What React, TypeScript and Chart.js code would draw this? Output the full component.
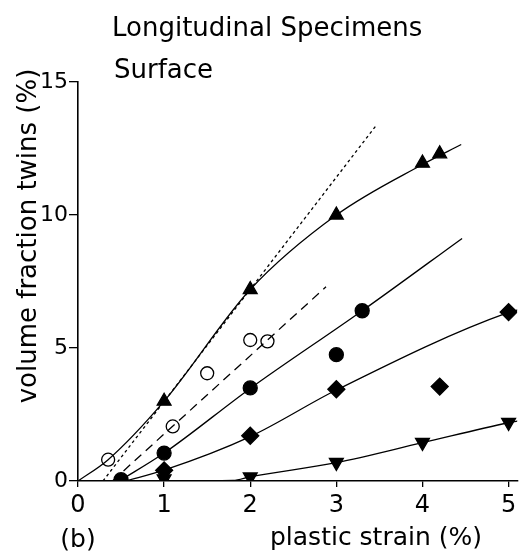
import React, { useEffect, useRef } from "react";
import { Chart, registerables } from "chart.js";

Chart.register(...registerables);

// Axis ticks
const xTicks = [0, 1, 2, 3, 4, 5];
const yTicks = [0, 5, 10, 15];

// Measured points (plastic strain %, volume fraction twins %)
const triX = [1, 2, 3, 4, 4.2];
const triY = [3.0, 7.2, 10.0, 11.95, 12.3];
const openX = [0.35, 1.1, 1.5, 2.0, 2.2];
const openY = [0.8, 2.05, 4.05, 5.3, 5.25];
const circX = [0.5, 1, 2, 3, 3.3];
const circY = [0.05, 1.05, 3.5, 4.75, 6.4];
const diaX = [1, 2, 3, 4.2, 5];
const diaY = [0.4, 1.7, 3.45, 3.55, 6.35];
const downX = [1, 2, 3, 4, 5];
const downY = [0.08, 0.15, 0.7, 1.45, 2.2];

// Fitted curves
const triCurveX = [0, 0.35, 1, 2, 3, 4, 4.45];
const triCurveY = [0, 0.8, 3.0, 7.2, 10.0, 11.9, 12.65];
const circCurveX = [0.48, 1, 2, 3.3, 4.46];
const circCurveY = [0, 1.05, 3.48, 6.4, 9.12];
const diaCurveX = [0.55, 1, 2, 3, 5, 5.13];
const diaCurveY = [0, 0.41, 1.67, 3.42, 6.34, 6.45];
const downCurveX = [1, 1.8, 2, 3, 4, 5, 5.13];
const downCurveY = [0, 0.02, 0.16, 0.69, 1.44, 2.19, 2.27];
const dottedX = [0.29, 3.47];
const dottedY = [0, 13.4];
const dashX = [0.4, 2.88];
const dashY = [0, 7.3];

const titleLine1 = "Longitudinal Specimens";
const titleLine2 = "Surface";
const xTitle = "plastic strain (%)";
const yTitle = "volume fraction twins (%)";
const panelLabel = "(b)";

const FONT = "'DejaVu Sans', sans-serif";

const pts = (xs: number[], ys: number[]) => xs.map((x, i) => ({ x, y: ys[i] }));

const curve = (xs: number[], ys: number[], dash: number[] = []) => ({
  type: "line" as const,
  data: pts(xs, ys),
  borderColor: "#000",
  borderWidth: 1.3,
  borderDash: dash,
  pointRadius: 0,
  fill: false,
  cubicInterpolationMode: "monotone" as const,
  showLine: true,
});

const markers = (xs: number[], ys: number[], style: string, r: number, filled = true, rot = 0) => ({
  type: "scatter" as const,
  data: pts(xs, ys),
  pointStyle: style,
  pointRadius: r,
  pointRotation: rot,
  backgroundColor: filled ? "#000" : "#fff",
  borderColor: "#000",
  borderWidth: 1.3,
  showLine: false,
});

const textPlugin = {
  id: "texts",
  afterDraw(chart: any) {
    const ctx = chart.ctx;
    ctx.save();
    ctx.fillStyle = "#000";
    ctx.textBaseline = "alphabetic";
    ctx.textAlign = "left";
    ctx.font = `26px ${FONT}`;
    ctx.fillText(titleLine1, 112, 36);
    ctx.fillText(titleLine2, 114, 78);
    ctx.font = `25px ${FONT}`;
    ctx.textAlign = "center";
    ctx.fillText(xTitle, 376, 545);
    ctx.fillText(panelLabel, 78, 547);
    ctx.translate(36, 236);
    ctx.rotate(-Math.PI / 2);
    ctx.font = `26px ${FONT}`;
    ctx.fillText(yTitle, 0, 0);
    ctx.restore();
  },
};

export default function App() {
  const ref = useRef<HTMLCanvasElement | null>(null);
  useEffect(() => {
    document.body.style.margin = "0";
    if (!ref.current) return;
    const chart = new Chart(ref.current, {
      type: "scatter",
      data: {
        datasets: [
          curve(triCurveX, triCurveY),
          curve(circCurveX, circCurveY),
          curve(diaCurveX, diaCurveY),
          curve(downCurveX, downCurveY),
          curve(dottedX, dottedY, [3, 3]),
          curve(dashX, dashY, [9, 6]),
          markers(triX, triY, "triangle", 8),
          markers(openX, openY, "circle", 6.5, false),
          markers(circX, circY, "circle", 7),
          markers(diaX, diaY, "rectRot", 8.5),
          markers(downX, downY, "triangle", 8, true, 180),
        ] as any,
      },
      options: {
        animation: false,
        responsive: true,
        maintainAspectRatio: false,
        layout: { padding: { top: 82, right: 4, left: 0, bottom: 0 } },
        plugins: { legend: { display: false }, tooltip: { enabled: false }, title: { display: false } },
        scales: {
          x: {
            type: "linear",
            min: 0,
            max: 5.1,
            afterBuildTicks: (s: any) => {
              s.ticks = xTicks.map((v) => ({ value: v }));
            },
            afterFit: (s: any) => {
              s.height = 71;
            },
            grid: { drawOnChartArea: false, drawTicks: true, tickLength: 6, tickColor: "#000", lineWidth: 1.3 },
            border: { display: true, color: "#000", width: 1.6 },
            ticks: { color: "#000", font: { family: FONT, size: 24 }, padding: 4 },
          },
          y: {
            type: "linear",
            min: 0,
            max: 15,
            afterBuildTicks: (s: any) => {
              s.ticks = yTicks.map((v) => ({ value: v }));
            },
            afterFit: (s: any) => {
              s.width = 78;
            },
            grid: { drawOnChartArea: false, drawTicks: true, tickLength: 9, tickColor: "#000", lineWidth: 1.3 },
            border: { display: true, color: "#000", width: 1.6 },
            ticks: { color: "#000", font: { family: FONT, size: 22 }, padding: 1 },
          },
        },
      },
      plugins: [textPlugin],
    } as any);
    return () => chart.destroy();
  }, []);
  return (
    <div style={{ width: 527, height: 552, position: "relative", background: "#fff" }}>
      <canvas ref={ref} />
    </div>
  );
}
